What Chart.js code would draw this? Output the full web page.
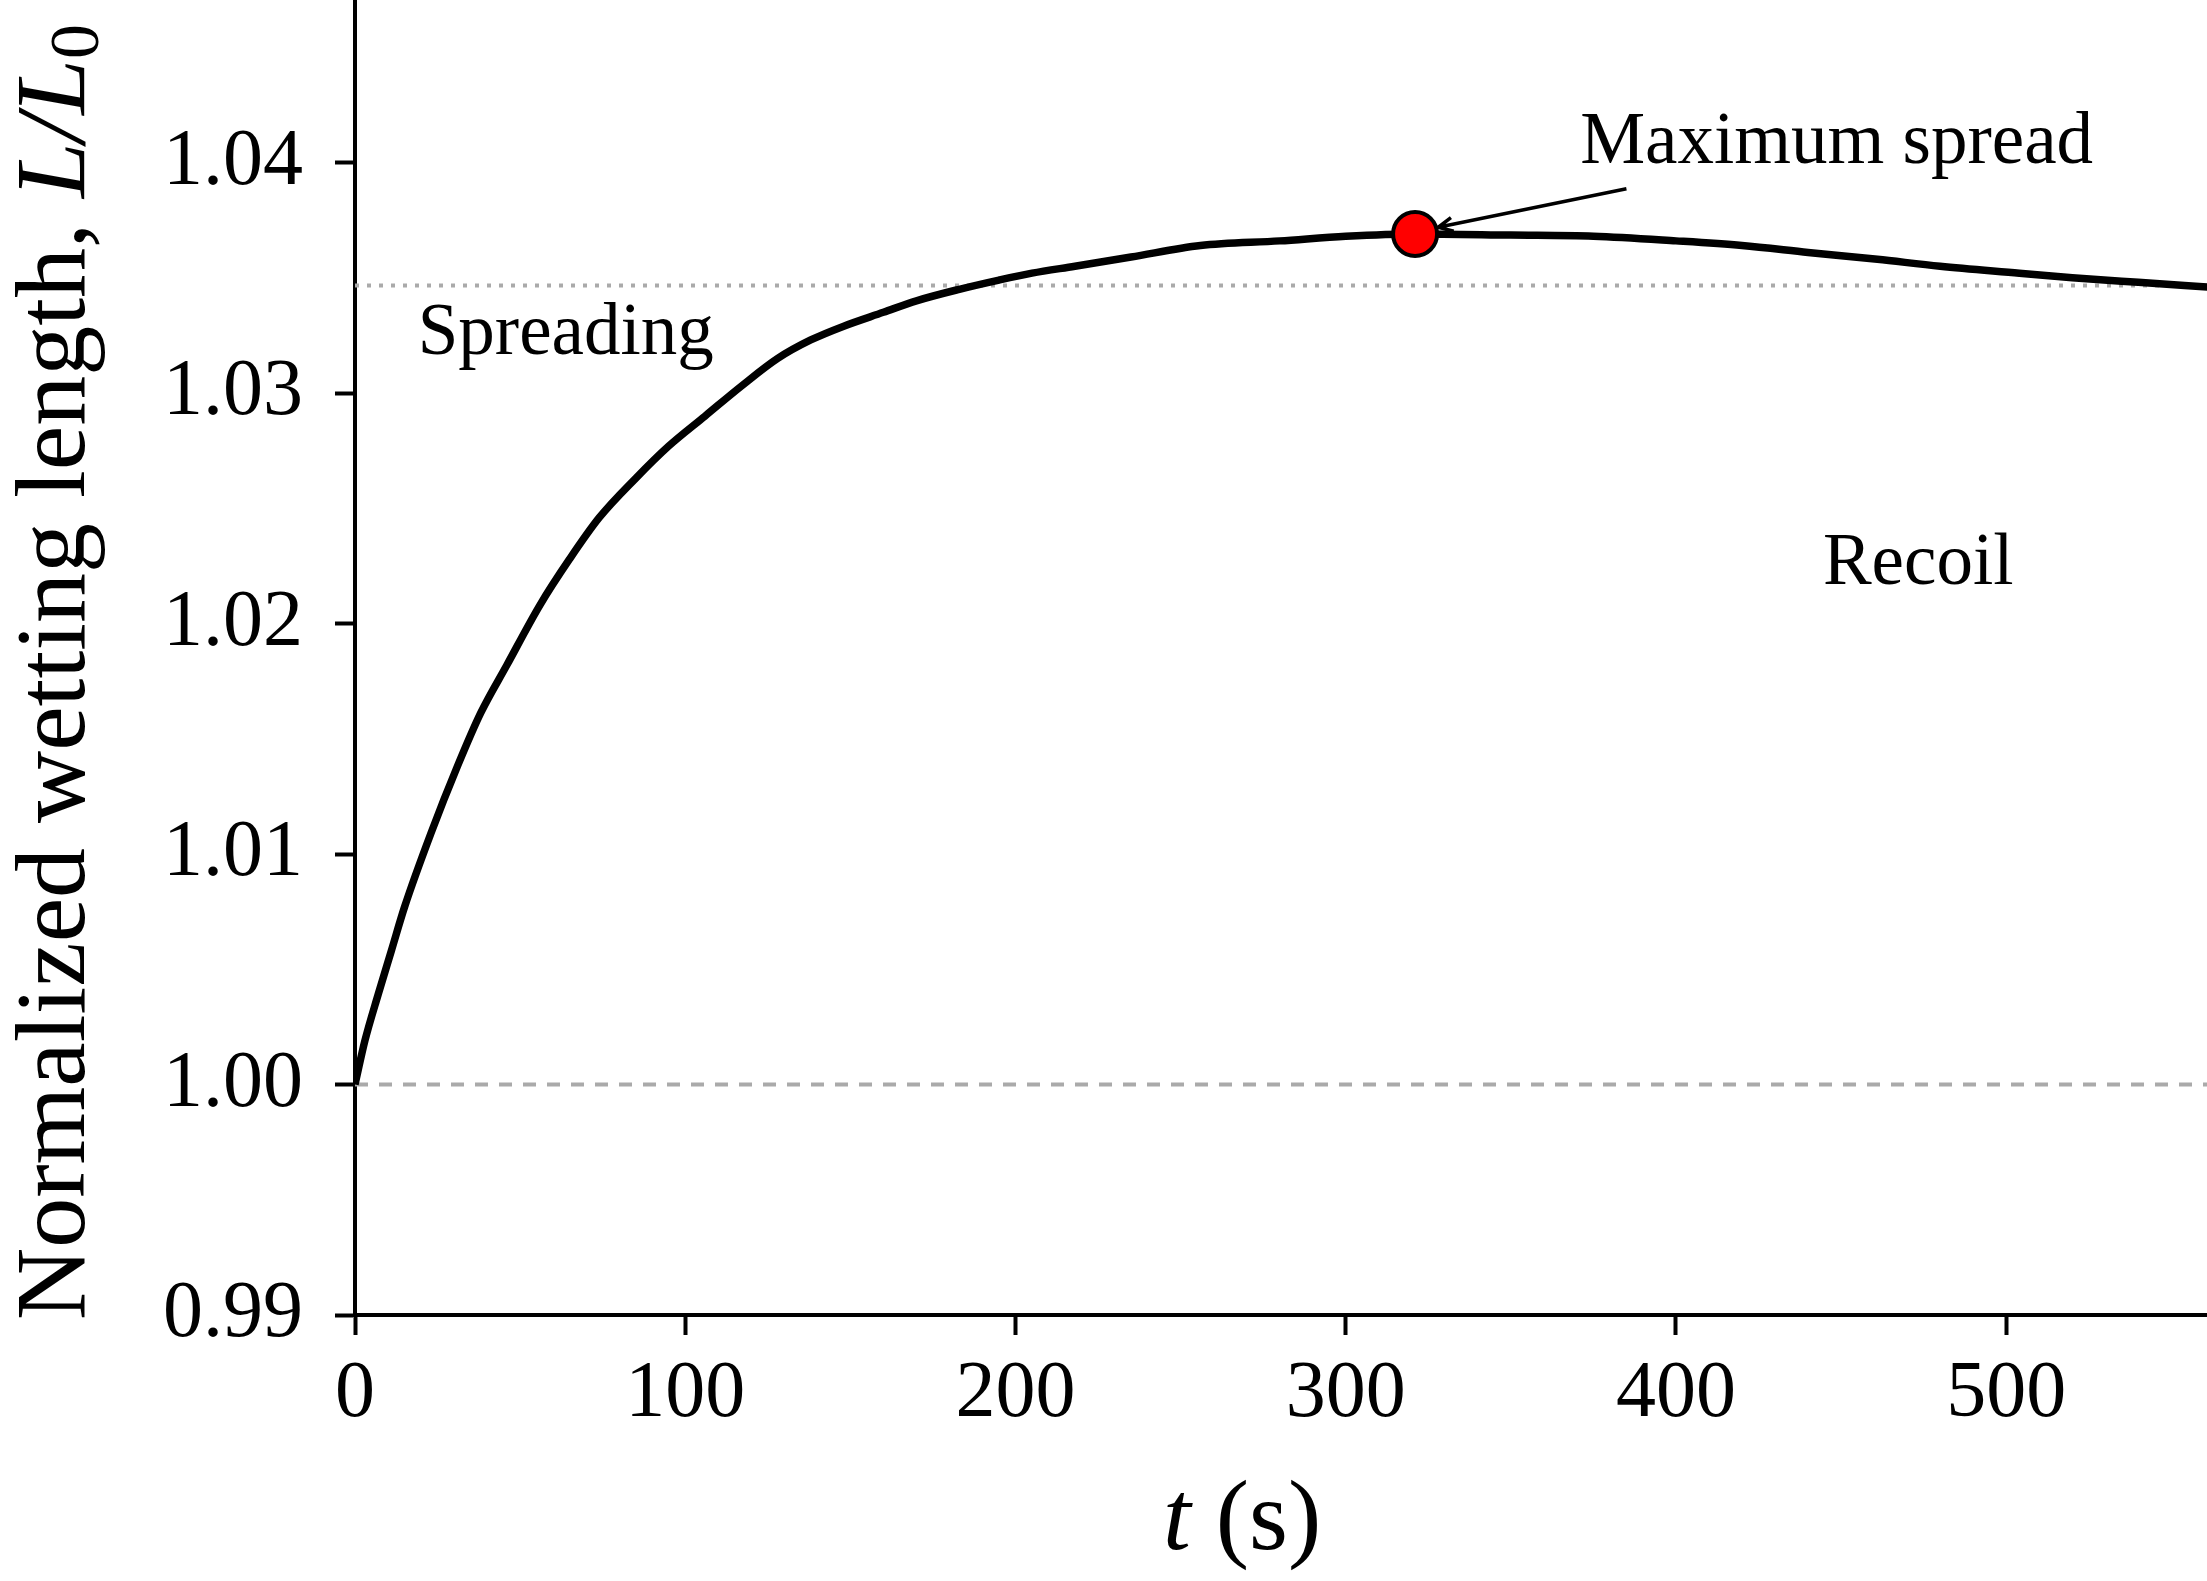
<!DOCTYPE html>
<html>
<head>
<meta charset="utf-8">
<script src="https://cdn.jsdelivr.net/npm/chart.js@4.4.1/dist/chart.umd.min.js"></script>
<style>
  html, body { margin: 0; padding: 0; background: #fff; }
  canvas { display: block; }
</style>
</head>
<body>
<canvas id="wetChart" width="2207" height="1581"></canvas>
<script>
// wetting length vs time
const timeS = [0, 3, 7, 11, 15, 23, 31, 38, 46, 56, 65, 74, 85, 95, 106, 117, 128, 138, 148, 160,
  170, 183, 195, 205, 218, 235, 256, 280, 300, 321, 350, 375, 400, 420, 440, 461, 480, 504, 520, 540, 561];
const lengthRatio = [1.0000, 1.0019, 1.0039, 1.0058, 1.0077, 1.0109, 1.0138, 1.0161, 1.0182, 1.0208,
  1.0228, 1.0246, 1.0263, 1.0277, 1.0290, 1.0303, 1.0315, 1.0323, 1.0329, 1.0335,
  1.0340, 1.0345, 1.0349, 1.0352, 1.0355, 1.0359, 1.0364, 1.0366, 1.0368, 1.0369,
  1.03685, 1.0368, 1.0366, 1.0364, 1.0361, 1.0358, 1.0355, 1.0352, 1.0350, 1.0348, 1.0346];

const maxSpreadT = [321];
const maxSpreadL = [1.0369];

const spreadLevel = 1.03466;   // dotted line
const baseLevel = 1.00;        // dashed line

const xTicks = [0, 100, 200, 300, 400, 500];
const yTicks = [0.99, 1.00, 1.01, 1.02, 1.03, 1.04];
const xRange = [0, 560.8];
const yRange = [0.99, 1.04705];

const notes = [
  { text: 'Spreading', t: 19, L: 1.0317 },
  { text: 'Recoil', t: 444.5, L: 1.0217 },
  { text: 'Maximum spread', t: 371, L: 1.0400 }
];
const arrowFrom = [385, 1.03886];
const arrowTo = [328, 1.03719];

const serif = '"Liberation Serif", "Times New Roman", serif';

function toXY(xs, ys) {
  return xs.map((v, i) => ({ x: v, y: ys[i] }));
}

const annotate = {
  id: 'annotate',
  afterDraw(chart) {
    const ctx = chart.ctx;
    const x = chart.scales.x, y = chart.scales.y;
    ctx.save();
    ctx.fillStyle = '#000';
    ctx.textBaseline = 'alphabetic';
    ctx.textAlign = 'left';

    ctx.font = '73px ' + serif;
    notes.forEach(n => ctx.fillText(n.text, x.getPixelForValue(n.t), y.getPixelForValue(n.L)));

    // arrow to the maximum
    const x1 = x.getPixelForValue(arrowFrom[0]), y1 = y.getPixelForValue(arrowFrom[1]);
    const x2 = x.getPixelForValue(arrowTo[0]), y2 = y.getPixelForValue(arrowTo[1]);
    const ang = Math.atan2(y2 - y1, x2 - x1);
    ctx.strokeStyle = '#000';
    ctx.lineWidth = 3.5;
    ctx.beginPath();
    ctx.moveTo(x1, y1);
    ctx.lineTo(x2, y2);
    ctx.moveTo(x2 - 16 * Math.cos(ang - 0.45), y2 - 16 * Math.sin(ang - 0.45));
    ctx.lineTo(x2, y2);
    ctx.lineTo(x2 - 16 * Math.cos(ang + 0.45), y2 - 16 * Math.sin(ang + 0.45));
    ctx.stroke();

    // x title: t (s)
    let px = 1163;
    ctx.font = 'italic 100px ' + serif;
    ctx.fillText('t', px, 1549);
    px += ctx.measureText('t').width;
    ctx.font = '100px ' + serif;
    ctx.fillText(' (s)', px, 1549);

    // y title, rotated
    ctx.translate(84, 1320);
    ctx.rotate(-Math.PI / 2);
    let py = 0;
    ctx.font = '100px ' + serif;
    const main = 'Normalized wetting length, ';
    ctx.fillText(main, py, 0);
    py += ctx.measureText(main).width;
    ctx.font = 'italic 100px ' + serif;
    ctx.fillText('L/L', py, 0);
    py += ctx.measureText('L/L').width;
    ctx.font = '70px ' + serif;
    ctx.fillText('0', py, 14);
    ctx.restore();
  }
};

new Chart(document.getElementById('wetChart'), {
  type: 'line',
  data: {
    datasets: [
      {
        type: 'scatter',
        data: toXY(maxSpreadT, maxSpreadL),
        pointRadius: 22,
        pointBackgroundColor: '#ff0000',
        pointBorderColor: '#000',
        pointBorderWidth: 4,
        order: 0
      },
      {
        data: toXY(timeS, lengthRatio),
        borderColor: '#000',
        borderWidth: 7.5,
        pointRadius: 0,
        cubicInterpolationMode: 'monotone',
        fill: false,
        order: 1
      },
      {
        data: toXY(xRange, [spreadLevel, spreadLevel]),
        borderColor: '#aaaaaa',
        borderWidth: 4,
        borderDash: [4, 8],
        pointRadius: 0,
        order: 2
      },
      {
        data: toXY(xRange, [baseLevel, baseLevel]),
        borderColor: '#aaaaaa',
        borderWidth: 4,
        borderDash: [13, 11],
        pointRadius: 0,
        order: 3
      }
    ]
  },
  options: {
    responsive: false,
    animation: false,
    devicePixelRatio: 1,
    layout: { padding: 0, autoPadding: false },
    plugins: { legend: { display: false }, tooltip: { enabled: false } },
    scales: {
      x: {
        type: 'linear',
        min: xRange[0],
        max: xRange[1],
        afterBuildTicks: s => { s.ticks = xTicks.map(v => ({ value: v })); },
        afterFit: s => { s.height = 266; s.paddingLeft = 0; s.paddingRight = 0; },
        grid: { display: true, drawOnChartArea: false, drawTicks: true, tickLength: 20, tickWidth: 4, tickColor: '#000' },
        border: { display: true, color: '#000', width: 4 },
        ticks: { color: '#000', font: { family: serif, size: 80 }, padding: 12, maxRotation: 0 }
      },
      y: {
        min: yRange[0],
        max: yRange[1],
        afterBuildTicks: s => { s.ticks = yTicks.map(v => ({ value: v })); },
        afterFit: s => { s.width = 355; s.paddingTop = 0; s.paddingBottom = 0; },
        grid: { display: true, drawOnChartArea: false, drawTicks: true, tickLength: 20, tickWidth: 4, tickColor: '#000' },
        border: { display: true, color: '#000', width: 4 },
        ticks: { color: '#000', font: { family: serif, size: 80 }, padding: 32, callback: v => v.toFixed(2) }
      }
    }
  },
  plugins: [annotate]
});
</script>
</body>
</html>
